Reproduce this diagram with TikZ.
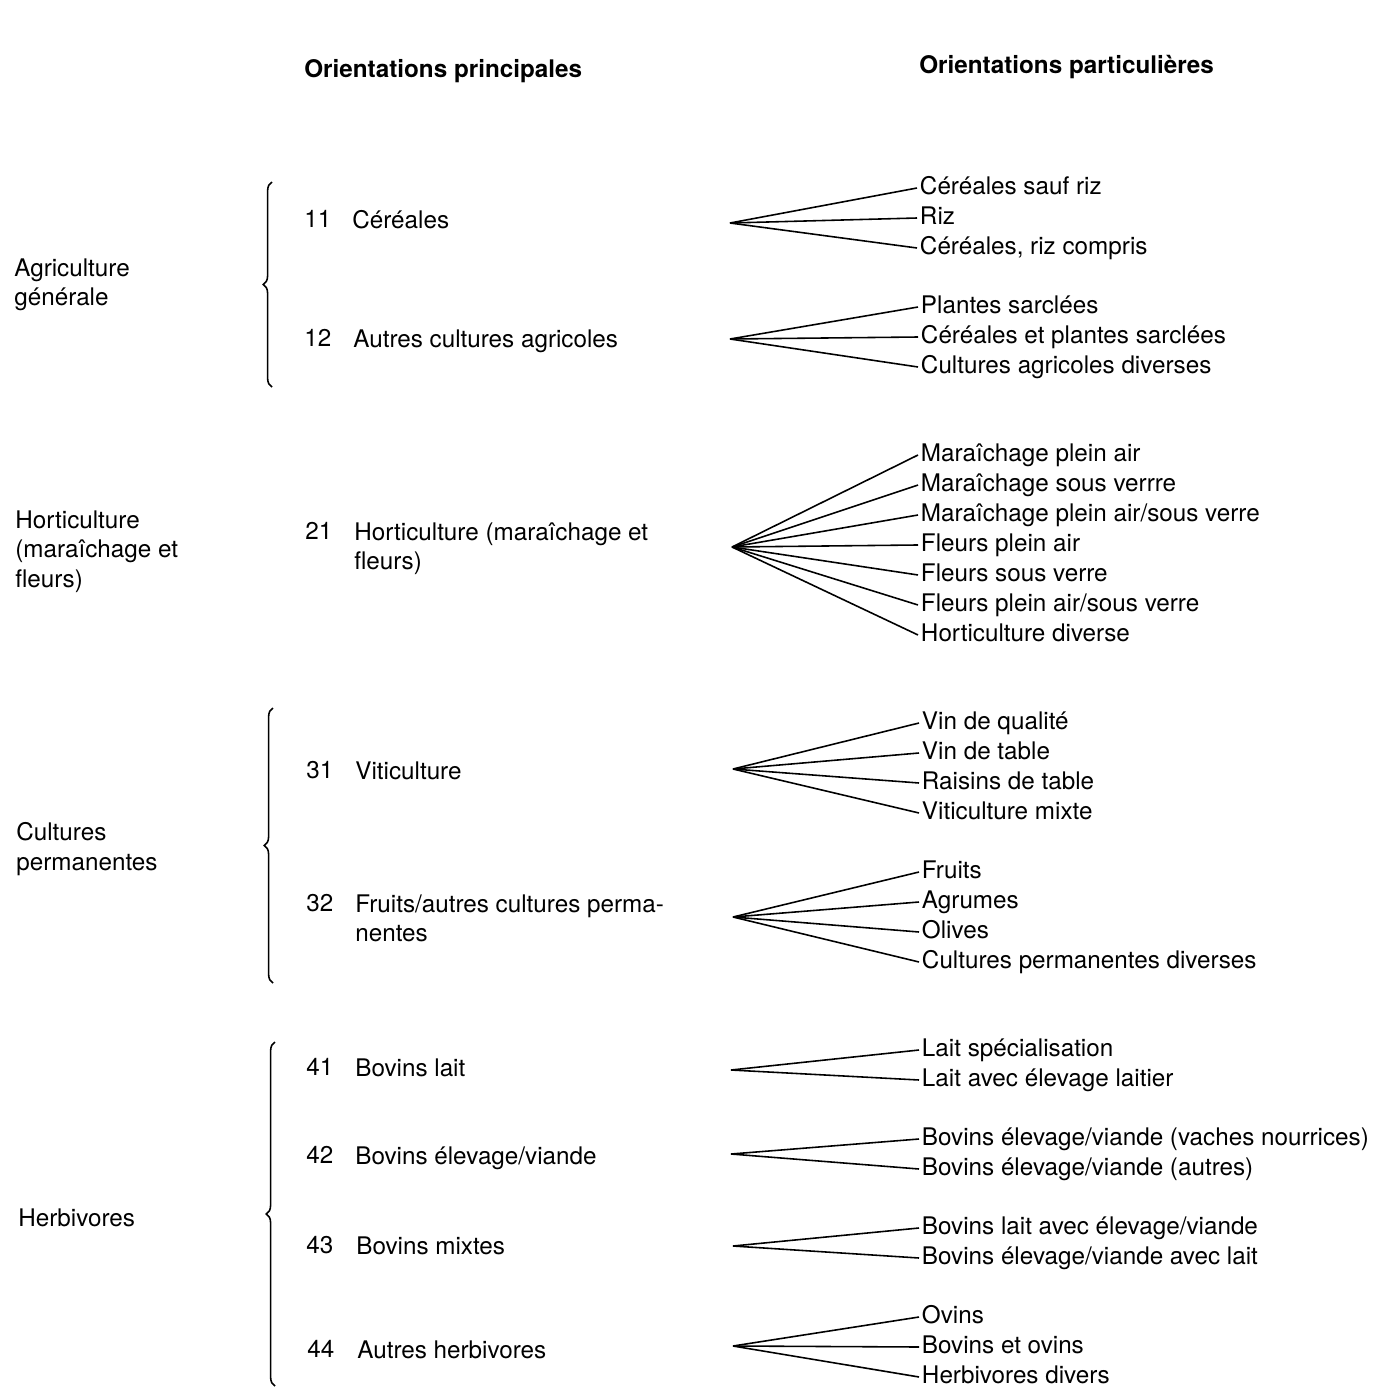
\documentclass[tikz,border=0pt]{standalone}
\usepackage{fontspec}
\setmainfont{TeX Gyre Heros}
\usetikzlibrary{positioning,decorations.pathreplacing}

\begin{document}
\begin{tikzpicture}[x=0.02cm,y=-0.02cm,node distance=0.6cm,on grid,
        every node/.style={font=\fontsize{13.8}{17}\selectfont},
        head/.style={anchor=north west,inner sep=0pt,font=\fontsize{13.8}{17}\selectfont\bfseries},
        txt/.style={anchor=north west,inner sep=0pt,align=left},
        leaf/.style={anchor=west,inner sep=1.5pt,text height=1.4ex,text depth=0pt},
        fan/.style={line width=0.9pt},
        brace/.style={decorate,decoration={brace,amplitude=5pt},line width=0.9pt}]
        \useasboundingbox (0,0) rectangle (1375,1394);

        % column heads
        \node[head] (hp) at (304,59) {Orientations principales};
        \node[head] (hq) at (919,55) {Orientations particulières};

        % left column
        \node[txt] (agr) at (14,258) {Agriculture\\générale};
        \node[txt] (hor) at (15,510) {Horticulture\\(maraîchage et\\fleurs)};
        \node[txt] (cul) at (16,822) {Cultures\\permanentes};
        \node[txt] (her) at (18,1208) {Herbivores};

        % braces
        \draw[brace] (272,387) -- (272,182);
        \draw[brace] (273,983) -- (273,708);
        \draw[brace] (275,1386) -- (275,1042);

        % main orientations
        \node[txt] (n11) at (304,210) {11};
        \node[txt] (o11) at (352,210) {Céréales};
        \node[txt] (n12) at (304,329) {12};
        \node[txt] (o12) at (353,329) {Autres cultures agricoles};
        \node[txt] (n21) at (305,522) {21};
        \node[txt] (o21) at (354,522) {Horticulture (maraîchage et\\fleurs)};
        \node[txt] (n31) at (306,761) {31};
        \node[txt] (o31) at (355,761) {Viticulture};
        \node[txt] (n32) at (306,894) {32};
        \node[txt] (o32) at (355,894) {Fruits/autres cultures perma-\\nentes};
        \node[txt] (n41) at (306,1058) {41};
        \node[txt] (o41) at (355,1058) {Bovins lait};
        \node[txt] (n42) at (306,1146) {42};
        \node[txt] (o42) at (355,1146) {Bovins élevage/viande};
        \node[txt] (n43) at (306,1236) {43};
        \node[txt] (o43) at (356,1236) {Bovins mixtes};
        \node[txt] (n44) at (307,1340) {44};
        \node[txt] (o44) at (357,1340) {Autres herbivores};

        % hubs of the fans
        \coordinate (h11) at (730,223);
        \coordinate (h12) at (730,339);
        \coordinate (h21) at (732,547);
        \coordinate (h31) at (733,769);
        \coordinate (h32) at (733,917);
        \coordinate (h41) at (731,1070);
        \coordinate (h42) at (731,1154);
        \coordinate (h43) at (733,1246);
        \coordinate (h44) at (733,1346);

        % particular orientations
        \node[leaf] (p11a) at (917,188) {Céréales sauf riz};
        \node (p11b) [below=of p11a.west,leaf] {Riz};
        \node (p11c) [below=of p11b.west,leaf] {Céréales, riz compris};

        \node[leaf] (p12a) at (918,307) {Plantes sarclées};
        \node (p12b) [below=of p12a.west,leaf] {Céréales et plantes sarclées};
        \node (p12c) [below=of p12b.west,leaf] {Cultures agricoles diverses};

        \node[leaf] (p21a) at (918,455) {Maraîchage plein air};
        \node (p21b) [below=of p21a.west,leaf] {Maraîchage sous verrre};
        \node (p21c) [below=of p21b.west,leaf] {Maraîchage plein air/sous verre};
        \node (p21d) [below=of p21c.west,leaf] {Fleurs plein air};
        \node (p21e) [below=of p21d.west,leaf] {Fleurs sous verre};
        \node (p21f) [below=of p21e.west,leaf] {Fleurs plein air/sous verre};
        \node (p21g) [below=of p21f.west,leaf] {Horticulture diverse};

        \node[leaf] (p31a) at (919,723) {Vin de qualité};
        \node (p31b) [below=of p31a.west,leaf] {Vin de table};
        \node (p31c) [below=of p31b.west,leaf] {Raisins de table};
        \node (p31d) [below=of p31c.west,leaf] {Viticulture mixte};

        \node[leaf] (p32a) at (919,872) {Fruits};
        \node (p32b) [below=of p32a.west,leaf] {Agrumes};
        \node (p32c) [below=of p32b.west,leaf] {Olives};
        \node (p32d) [below=of p32c.west,leaf] {Cultures permanentes diverses};

        \node[leaf] (p41a) at (919,1050) {Lait spécialisation};
        \node (p41b) [below=of p41a.west,leaf] {Lait avec élevage laitier};

        \node[leaf] (p42a) at (919,1139) {Bovins élevage/viande (vaches nourrices)};
        \node (p42b) [below=of p42a.west,leaf] {Bovins élevage/viande (autres)};

        \node[leaf] (p43a) at (919,1228) {Bovins lait avec élevage/viande};
        \node (p43b) [below=of p43a.west,leaf] {Bovins élevage/viande avec lait};

        \node[leaf] (p44a) at (919,1317) {Ovins};
        \node (p44b) [below=of p44a.west,leaf] {Bovins et ovins};
        \node (p44c) [below=of p44b.west,leaf] {Herbivores divers};

        % fans
        \path[fan]
            (h11)
                edge (p11a.west) edge (p11b.west) edge (p11c.west)
            (h12)
                edge (p12a.west) edge (p12b.west) edge (p12c.west)
            (h21)
                edge (p21a.west) edge (p21b.west) edge (p21c.west) edge (p21d.west)
                edge (p21e.west) edge (p21f.west) edge (p21g.west)
            (h31)
                edge (p31a.west) edge (p31b.west) edge (p31c.west) edge (p31d.west)
            (h32)
                edge (p32a.west) edge (p32b.west) edge (p32c.west) edge (p32d.west)
            (h41)
                edge (p41a.west) edge (p41b.west)
            (h42)
                edge (p42a.west) edge (p42b.west)
            (h43)
                edge (p43a.west) edge (p43b.west)
            (h44)
                edge (p44a.west) edge (p44b.west) edge (p44c.west);
\end{tikzpicture}
\end{document}
